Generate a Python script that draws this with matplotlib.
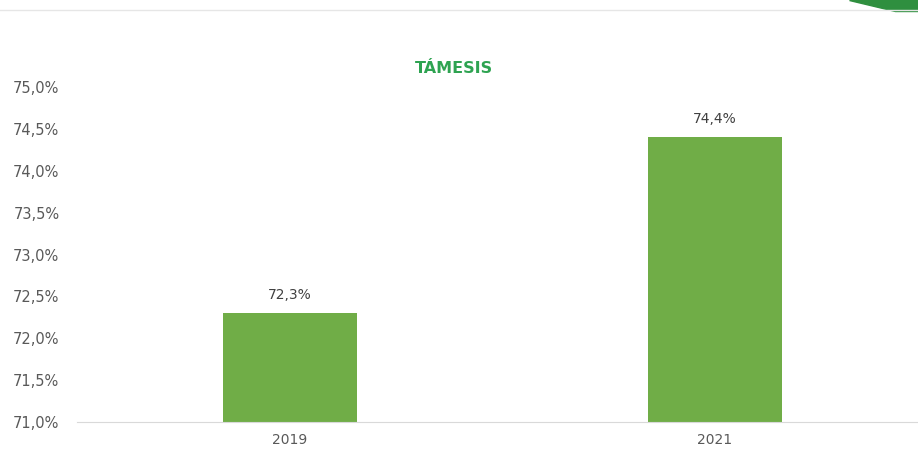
import matplotlib
matplotlib.use("Agg")
import matplotlib.pyplot as plt
import matplotlib.patches as patches

years = ["2019", "2021"]
values = [72.3, 74.4]
labels = ["72,3%", "74,4%"]
yticks = [71.0, 71.5, 72.0, 72.5, 73.0, 73.5, 74.0, 74.5, 75.0]

fig = plt.figure(figsize=(9.18, 4.55), dpi=100)
ax = fig.add_axes([0.0844, 0.0725, 0.926, 0.7363])

x = range(len(years))
bars = ax.bar(x, values, width=0.315, color="#70ad47", zorder=2)
for i, v in enumerate(values):
    ax.text(i, v + 0.13, labels[i], ha="center", va="bottom", fontsize=10, color="#404040")

ax.set_ylim(71.0, 75.0)
ax.set_xlim(-0.5, 1.5)
ax.set_yticks(yticks)
ax.set_yticklabels([("%.1f" % t).replace(".", ",") + "%" for t in yticks])
ax.set_xticks(list(x))
ax.set_xticklabels(years)
ax.tick_params(axis="both", length=0, labelsize=10, labelcolor="#595959")
ax.tick_params(axis="y", labelsize=10.5, pad=13)
ax.tick_params(axis="x", pad=8)
for s in ["top", "right", "left"]:
    ax.spines[s].set_visible(False)
ax.spines["bottom"].set_color("#d9d9d9")

fig.text(0.494, 0.85, "TÁMESIS", ha="center", va="center", fontsize=11.5,
         fontweight="heavy", color="#2ea351")

# header separator and corner shape
fig.add_artist(plt.Line2D([0, 1], [0.977, 0.977], color="#e6e6e6", lw=1))
fig.add_artist(patches.Polygon([[0.925, 1.0], [1.0, 1.0], [1.0, 0.975], [0.975, 0.975]],
                               closed=True, color="#2f8f3f", transform=fig.transFigure))

fig.savefig("out.png", dpi=100)
